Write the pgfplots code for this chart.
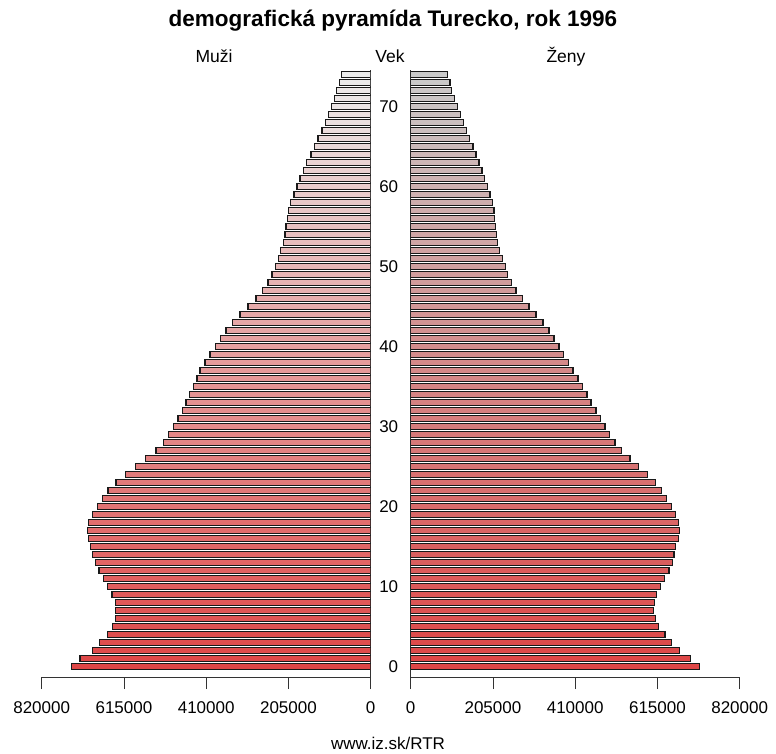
\documentclass[border=0pt]{standalone}
\usepackage{pgfplots}
\pgfplotsset{compat=1.18}
\usepackage{pgfplotstable}
\usepackage{fontspec}
\setmainfont{Liberation Sans}
\definecolor{barred}{RGB}{222,70,70}
\definecolor{mtop}{RGB}{236,236,236}
\definecolor{ftop}{RGB}{202,202,202}
\pgfplotstableread{
age m f
0 745100 720400
1 724400 697200
2 692800 669800
3 676300 650600
4 656400 634000
5 643900 618300
6 636500 610000
7 636500 605800
8 636500 607600
9 644700 613300
10 656400 622500
11 665400 633200
12 677100 643900
13 686300 652400
14 692800 656400
15 698800 660600
16 702700 668100
17 706200 669800
18 703700 667300
19 692800 660600
20 681300 649900
21 668800 638200
22 654600 625700
23 634700 610000
24 610500 590100
25 585600 568000
26 560700 547000
27 535000 526100
28 516800 508700
29 503400 495500
30 491900 484600
31 480200 473100
32 469500 461400
33 460300 449000
34 452000 439000
35 441100 428300
36 432900 416600
37 425400 404900
38 412900 393400
39 400500 381000
40 387300 369300
41 373800 357600
42 360600 345100
43 344900 329400
44 325700 312000
45 305800 295300
46 285800 278900
47 270100 262200
48 255900 250500
49 246000 241500
50 237700 235600
51 230200 228100
52 224300 220600
53 217800 216600
54 213600 214100
55 211100 211700
56 207800 209200
57 204300 207400
58 199400 204200
59 191100 197500
60 183700 190700
61 176200 184300
62 168000 177500
63 159500 170100
64 148800 162600
65 140500 155100
66 131300 146900
67 121400 139400
68 113100 132000
69 104700 123500
70 97200 117000
71 90700 109600
72 84700 102100
73 78200 97900
74 73300 91100
}\pyr
\pgfplotsset{pyr/.style={
  scale only axis, width=329pt, height=607.2pt,
  ymin=-1.3, ymax=74.6,
  axis x line*=bottom,
  tick align=outside,
  major tick length=12pt, minor tick length=5pt,
  xtick style={black!80, line width=0.8pt},
  ytick style={draw=none},
  minor tick style={black!80, line width=0.8pt},
  minor ytick={0,...,74},
  axis line style={black!80, line width=0.8pt},
  tick label style={font=\fontsize{17}{20}\selectfont},
  xticklabel style={yshift=-9pt},
  scaled x ticks=false,
}}
\begin{document}
\begin{tikzpicture}[x=1pt,y=1pt]
\useasboundingbox (0,0) rectangle (776,753);
\begin{axis}[pyr, at={(41.7pt,76pt)}, anchor=south west,
  xmin=-820000, xmax=0, axis y line*=right,
  xtick={-820000,-615000,-410000,-205000,0},
  xticklabels={820000,615000,410000,205000,0},
  ytick={0,10,...,70}, yticklabels={}]
\pgfplotsinvokeforeach{0,...,74}{
  \pgfplotstablegetelem{#1}{m}\of\pyr
  \pgfmathtruncatemacro\pc{round(100*#1/74)}
  \edef\doplot{\noexpand\addplot[xbar, bar shift=0pt, bar width=0.76, draw=black!90, line width=1.4pt, fill=mtop!\pc!barred] coordinates {(-\pgfplotsretval,#1)};}
  \doplot
}
\end{axis}
\begin{axis}[pyr, at={(410.7pt,76pt)}, anchor=south west,
  xmin=0, xmax=820000, axis y line*=left,
  xtick={0,205000,410000,615000,820000},
  xticklabels={0,205000,410000,615000,820000},
  ytick={0,10,...,70}, yticklabels={0,10,20,30,40,50,60,70},
  yticklabel style={xshift=3pt}]
\pgfplotsinvokeforeach{0,...,74}{
  \pgfplotstablegetelem{#1}{f}\of\pyr
  \pgfmathtruncatemacro\pc{round(100*#1/74)}
  \edef\doplot{\noexpand\addplot[xbar, bar shift=0pt, bar width=0.76, draw=black!90, line width=1.4pt, fill=ftop!\pc!barred] coordinates {(\pgfplotsretval,#1)};}
  \doplot
}
\end{axis}
\node[anchor=base, font=\fontsize{22.5}{26}\selectfont\bfseries] at (393,726) {demografická pyramída Turecko, rok 1996};
\node[anchor=base, font=\fontsize{17.5}{20}\selectfont] at (214,690) {Muži};
\node[anchor=base, font=\fontsize{17.5}{20}\selectfont] at (390,690) {Vek};
\node[anchor=base, font=\fontsize{17.5}{20}\selectfont] at (566,690) {Ženy};
\node[anchor=base, font=\fontsize{17}{20}\selectfont] at (388,4) {www.iz.sk/RTR};
\end{tikzpicture}
\end{document}
